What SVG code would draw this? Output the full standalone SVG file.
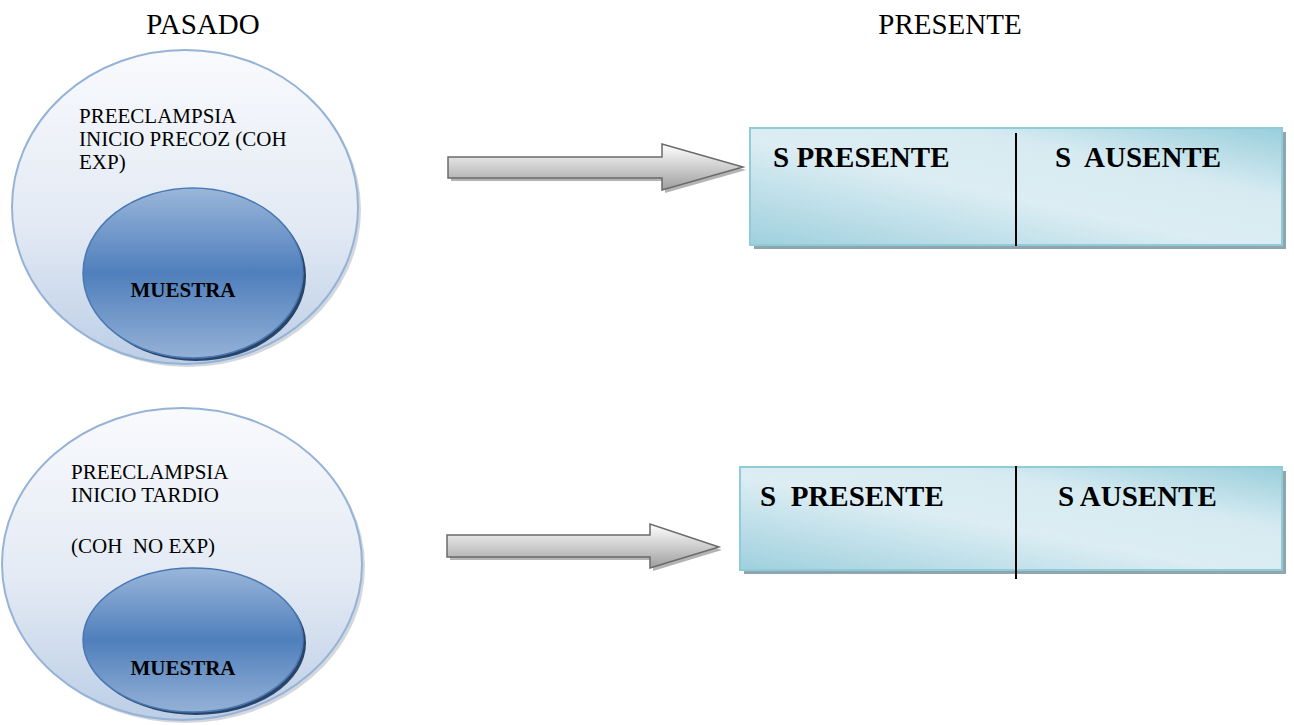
<svg xmlns="http://www.w3.org/2000/svg" width="1294" height="725" viewBox="0 0 1294 725">
<defs>
<linearGradient id="gOuter" x1="0" y1="0" x2="0" y2="1">
<stop offset="0" stop-color="#f9fafd"/>
<stop offset="0.55" stop-color="#e3eaf4"/>
<stop offset="1" stop-color="#bccee6"/>
</linearGradient>
<linearGradient id="gInner" x1="0" y1="0" x2="0" y2="1">
<stop offset="0" stop-color="#9ab6da"/>
<stop offset="0.5" stop-color="#4f7fbc"/>
<stop offset="1" stop-color="#94b1d6"/>
</linearGradient>
<linearGradient id="gBox" x1="0" y1="1" x2="1" y2="0">
<stop offset="0" stop-color="#9ed0de"/>
<stop offset="0.45" stop-color="#dcedf3"/>
<stop offset="0.7" stop-color="#d6ebf1"/>
<stop offset="1" stop-color="#99cedc"/>
</linearGradient>
<linearGradient id="gArrow" x1="0" y1="0" x2="0" y2="1">
<stop offset="0" stop-color="#ffffff"/>
<stop offset="1" stop-color="#9e9e9e"/>
</linearGradient>
</defs>
<style>
.title{font-family:"Liberation Serif","Times New Roman",serif;font-size:29px;fill:#000}
.lbl{font-family:"Liberation Serif","Times New Roman",serif;font-size:21px;fill:#000}
.mue{font-family:"Liberation Serif","Times New Roman",serif;font-size:21px;font-weight:bold;fill:#000}
.box{font-family:"Liberation Serif","Times New Roman",serif;font-size:29px;font-weight:bold;fill:#000;white-space:pre}
.outer{fill:url(#gOuter);stroke:#95b3d7;stroke-width:2}
.outerSh{fill:#b8bcc4;opacity:0.6}
.inner{fill:url(#gInner);stroke:#4a78b4;stroke-width:1.5}
.innerSh{fill:#2a4468}
.rect{fill:url(#gBox);stroke:#8fcbd9;stroke-width:2}
.rectSh{fill:#90a6ae}
.div{stroke:#000;stroke-width:2}
.arr{fill:url(#gArrow);stroke:#6a6a6a;stroke-width:1.5;stroke-linejoin:miter}
.arrSh{fill:#b4b4b4}
</style>

<g id="titles">
<text class="title" x="203" y="34" text-anchor="middle">PASADO</text>
<text class="title" x="950" y="34" text-anchor="middle">PRESENTE</text>
</g>

<g id="pasado-precoz">
<ellipse class="outerSh" cx="188" cy="210" rx="173" ry="157"/>
<ellipse class="outer" cx="185" cy="207" rx="173" ry="157"/>
<text class="lbl" x="79" y="123">PREECLAMPSIA</text>
<text class="lbl" x="79" y="146">INICIO PRECOZ (COH</text>
<text class="lbl" x="79" y="169">EXP)</text>
</g>
<g id="muestra-1">
<ellipse class="innerSh" cx="196" cy="276" rx="110" ry="85"/>
<ellipse class="inner" cx="193" cy="273" rx="110" ry="85"/>
<text class="mue" x="183" y="297" text-anchor="middle">MUESTRA</text>
</g>

<g id="pasado-tardio">
<ellipse class="outerSh" cx="185" cy="567" rx="180" ry="156"/>
<ellipse class="outer" cx="182" cy="564" rx="180" ry="156"/>
<text class="lbl" x="71" y="479">PREECLAMPSIA</text>
<text class="lbl" x="71" y="502">INICIO TARDIO</text>
<text class="lbl" x="71" y="553" xml:space="preserve">(COH  NO EXP)</text>
</g>
<g id="muestra-2">
<ellipse class="innerSh" cx="196" cy="643" rx="110" ry="72"/>
<ellipse class="inner" cx="193" cy="640" rx="110" ry="72"/>
<text class="mue" x="183" y="675" text-anchor="middle">MUESTRA</text>
</g>

<g id="connectors">
<polygon class="arrSh" points="451,160 665,160 665,147 746,170 665,193 665,181 451,181"/>
<polygon class="arr" points="448,157 662,157 662,144 743,167 662,190 662,178 448,178"/>
<polygon class="arrSh" points="450,538 653,538 653,527 722,550 653,571 653,560 450,560"/>
<polygon class="arr" points="447,535 650,535 650,524 719,547 650,568 650,557 447,557"/>
</g>

<g id="presente-1">
<rect class="rectSh" x="754" y="132" width="532" height="117"/>
<rect class="rect" x="750" y="128" width="532" height="117"/>
<line class="div" x1="1016" y1="133" x2="1016" y2="246"/>
<text class="box" x="773" y="167" xml:space="preserve">S PRESENTE</text>
<text class="box" x="1055" y="167" xml:space="preserve">S  AUSENTE</text>
</g>

<g id="presente-2">
<rect class="rectSh" x="744" y="471" width="542" height="103"/>
<rect class="rect" x="740" y="467" width="542" height="103"/>
<line class="div" x1="1016" y1="466" x2="1016" y2="579"/>
<text class="box" x="760" y="506" xml:space="preserve">S  PRESENTE</text>
<text class="box" x="1058" y="506" xml:space="preserve">S AUSENTE</text>
</g>
</svg>
